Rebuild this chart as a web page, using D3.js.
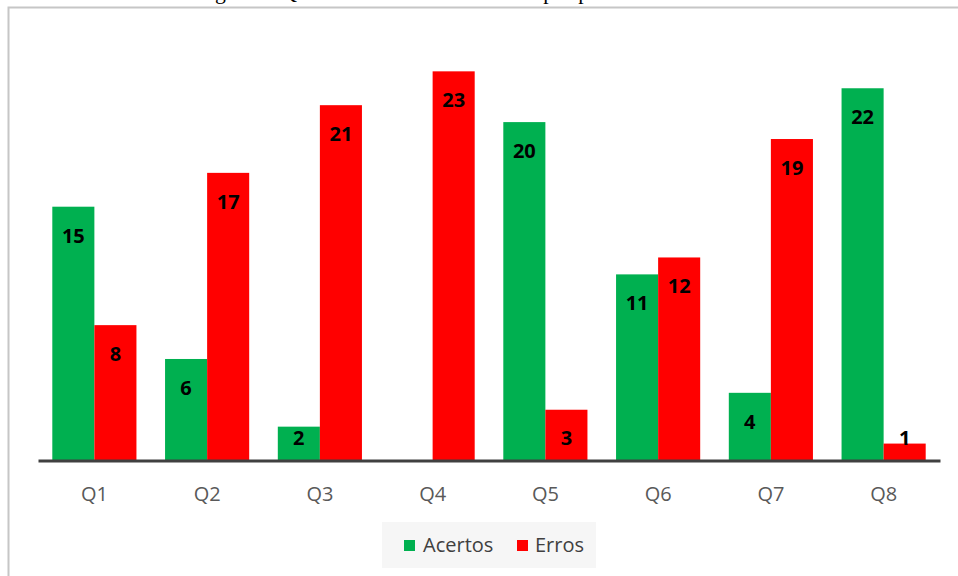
<!DOCTYPE html>
<html>
<head>
<meta charset="utf-8">
<script src="https://cdn.jsdelivr.net/npm/d3@7/dist/d3.min.js"></script>
<style>
  html, body { margin: 0; padding: 0; background: #ffffff; }
  svg { display: block; }
</style>
</head>
<body>
<svg id="chart" width="958" height="576"></svg>
<script>
// Questions and counts of right / wrong answers
const questions = ["Q1", "Q2", "Q3", "Q4", "Q5", "Q6", "Q7", "Q8"];
const seriesNames = ["Acertos", "Erros"];
const acertos = [15, 6, 2, 0, 20, 11, 4, 22];
const erros = [8, 17, 21, 23, 3, 12, 19, 1];
const seriesColors = ["#00b050", "#ff0000"];
const titleText = "Figura 3: Quantidade de acertos e erros pré-prática";

const svg = d3.select("#chart");

// Figure caption sitting just above the chart frame (runs off the top edge)
svg.append("text")
  .attr("x", 197).attr("y", -1)
  .attr("font-family", "'Liberation Serif', 'Times New Roman', serif")
  .attr("font-size", 21.7)
  .attr("fill", "#000")
  .text(titleText);

// Chart frame
svg.append("rect")
  .attr("x", 8.5).attr("y", 7.5)
  .attr("width", 1000).attr("height", 700)
  .attr("fill", "none")
  .attr("stroke", "#c6c6c6")
  .attr("stroke-width", 2);

// Scales
const baseY = 460.5;
const y = d3.scaleLinear().domain([0, 25]).range([baseY, baseY - 25 * 16.92]);
const x0 = d3.scaleBand().domain(questions).range([38, 940]).paddingInner(0).paddingOuter(0);
const x1 = d3.scaleBand().domain(seriesNames).range([0, x0.bandwidth()]).paddingInner(0).paddingOuter(0.34);
const color = d3.scaleOrdinal().domain(seriesNames).range(seriesColors);

const rows = questions.map((q, i) => ({
  q,
  vals: [
    { s: seriesNames[0], v: acertos[i] },
    { s: seriesNames[1], v: erros[i] }
  ]
}));

// Bars
const groups = svg.append("g").selectAll("g")
  .data(rows).join("g")
  .attr("transform", d => `translate(${x0(d.q)},0)`);

groups.selectAll("rect")
  .data(d => d.vals.filter(e => e.v > 0))
  .join("rect")
  .attr("x", d => x1(d.s))
  .attr("y", d => y(d.v))
  .attr("width", x1.bandwidth())
  .attr("height", d => y(0) - y(d.v))
  .attr("fill", d => color(d.s));

// Value labels near the top of each bar
groups.selectAll("text")
  .data(d => d.vals.filter(e => e.v > 0))
  .join("text")
  .attr("x", d => x1(d.s) + x1.bandwidth() / 2)
  .attr("y", d => Math.min(y(d.v) + 36, y(0) - 16))
  .attr("text-anchor", "middle")
  .attr("font-family", "'Open Sans', 'Liberation Sans', sans-serif")
  .attr("font-weight", "bold")
  .attr("font-size", 20)
  .attr("fill", "#000")
  .text(d => d.v);

// Category axis
const xAxis = svg.append("g")
  .attr("transform", `translate(0,${baseY})`)
  .call(d3.axisBottom(x0).tickSize(0).tickSizeOuter(0));
xAxis.select(".domain")
  .attr("stroke", "#404040")
  .attr("stroke-width", 3);
xAxis.selectAll(".tick text")
  .attr("dy", null)
  .attr("y", 40.5)
  .attr("font-family", "'Open Sans', 'Liberation Sans', sans-serif")
  .attr("font-size", 20)
  .attr("fill", "#595959");

// Legend
const legend = svg.append("g");
legend.append("rect")
  .attr("x", 382).attr("y", 522)
  .attr("width", 214).attr("height", 46)
  .attr("fill", "#f6f6f6");

const legendItems = [
  { s: seriesNames[0], sx: 404, tx: 423 },
  { s: seriesNames[1], sx: 517, tx: 535 }
];
legendItems.forEach(it => {
  legend.append("rect")
    .attr("x", it.sx).attr("y", 540)
    .attr("width", 11).attr("height", 11)
    .attr("fill", color(it.s));
  legend.append("text")
    .attr("x", it.tx).attr("y", 552)
    .attr("font-family", "'Open Sans', 'Liberation Sans', sans-serif")
    .attr("font-size", 20)
    .attr("fill", "#404040")
    .text(it.s);
});
</script>
</body>
</html>
